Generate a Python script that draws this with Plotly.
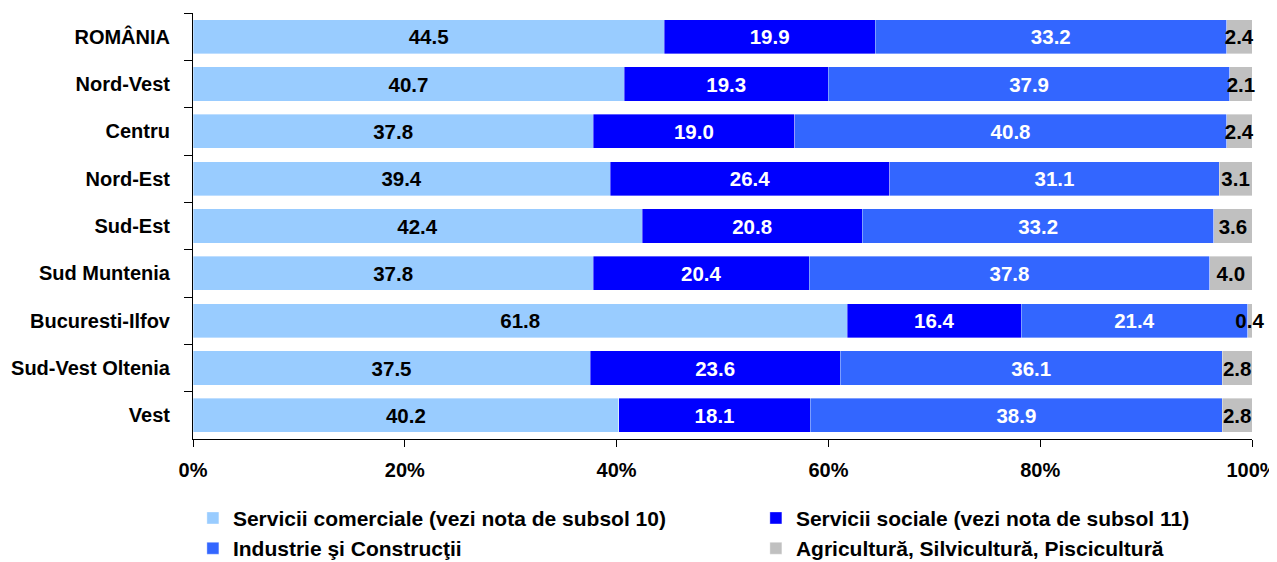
import plotly.graph_objects as go

regions = ["ROMÂNIA", "Nord-Vest", "Centru", "Nord-Est", "Sud-Est",
           "Sud Muntenia", "Bucuresti-Ilfov", "Sud-Vest Oltenia", "Vest"]
servicii_comerciale = [44.5, 40.7, 37.8, 39.4, 42.4, 37.8, 61.8, 37.5, 40.2]
servicii_sociale = [19.9, 19.3, 19.0, 26.4, 20.8, 20.4, 16.4, 23.6, 18.1]
industrie = [33.2, 37.9, 40.8, 31.1, 33.2, 37.8, 21.4, 36.1, 38.9]
agricultura = [2.4, 2.1, 2.4, 3.1, 3.6, 4.0, 0.4, 2.8, 2.8]
x_ticks = [0, 20, 40, 60, 80, 100]
x_tick_labels = ["0%", "20%", "40%", "60%", "80%", "100%"]

series = [
    ("Servicii comerciale (vezi nota de subsol 10)", servicii_comerciale, "#99CCFF", "black"),
    ("Servicii sociale (vezi nota de subsol 11)", servicii_sociale, "#0000FF", "white"),
    ("Industrie şi Construcţii", industrie, "#3366FF", "white"),
    ("Agricultură, Silvicultură, Piscicultură", agricultura, "#C0C0C0", "black"),
]

FONT = "Liberation Sans, Arial, sans-serif"

fig = go.Figure()
for name, vals, color, tcolor in series:
    fig.add_trace(go.Bar(
        y=regions, x=vals, name=name, orientation="h",
        marker=dict(color=color, line=dict(width=0.6, color="rgba(255,255,255,0.6)")),
        text=[f"{v:.1f}" for v in vals], textposition="inside", textangle=0,
        insidetextanchor="middle", constraintext="none", cliponaxis=False,
        textfont=dict(color=tcolor, size=20.5, family=FONT, weight="bold"),
        width=0.72, hoverinfo="skip",
    ))

# page body has an 8px margin, so the figure is offset by (8, 8)
fig.update_layout(
    barmode="stack", barnorm="percent",
    width=1269, height=562,
    margin=dict(l=185, r=25, t=5, b=131, autoexpand=False),
    paper_bgcolor="white", plot_bgcolor="white",
    font=dict(family=FONT, size=20, color="black", weight="bold"),
    showlegend=True,
    legend=dict(orientation="h", x=-0.0001, xanchor="left", y=-0.138, yanchor="top",
                entrywidth=518, entrywidthmode="pixels", traceorder="normal",
                font=dict(size=21, family=FONT, weight="bold"),
                itemclick=False, tracegroupgap=0),
)
fig.update_xaxes(range=[0, 100], tickvals=x_ticks, ticktext=x_tick_labels,
                 showgrid=False, zeroline=False, showline=True, linecolor="black",
                 linewidth=1, ticks="outside", ticklen=7, tickcolor="black",
                 ticklabelstandoff=6, ticklabeloverflow="allow", automargin=False,
                 tickfont=dict(size=20, family=FONT, weight="bold"))
fig.update_yaxes(autorange="reversed", showgrid=False, zeroline=False,
                 showline=True, linecolor="black", linewidth=1,
                 ticks="outside", ticklen=8, tickcolor="black", tickson="boundaries",
                 ticklabelstandoff=18, automargin=False,
                 tickfont=dict(size=20, family=FONT, weight="bold"))

fig.write_html("out.html")
